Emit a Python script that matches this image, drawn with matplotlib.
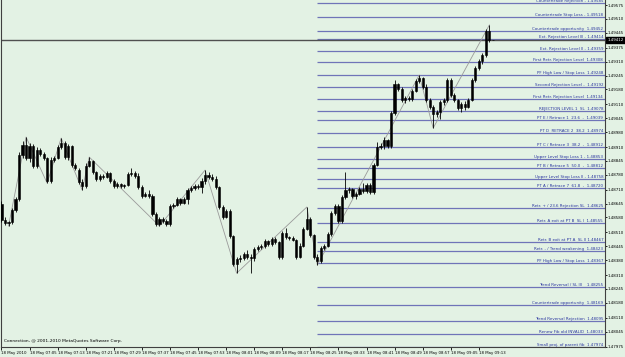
import matplotlib
matplotlib.use("Agg")
import matplotlib.pyplot as plt
import matplotlib.transforms as mtransforms

plt.rcParams['font.family'] = ['Liberation Sans Narrow', 'DejaVu Sans']

# ---------------- data ----------------
opens = [1.48643, 1.48568, 1.48554, 1.48558, 1.48615, 1.48666, 1.48873, 1.48919, 1.48858, 1.48915,
         1.48821, 1.48896, 1.48877, 1.48858, 1.48751, 1.48849, 1.48858, 1.48910, 1.48929, 1.48863,
         1.48915, 1.48826, 1.48802, 1.48746, 1.48727, 1.48821, 1.48844, 1.48793, 1.48760, 1.48774,
         1.48769, 1.48788, 1.48751, 1.48727, 1.48737, 1.48727, 1.48732, 1.48783, 1.48788, 1.48774,
         1.48723, 1.48680, 1.48690, 1.48680, 1.48596, 1.48549, 1.48573, 1.48563, 1.48549, 1.48633,
         1.48638, 1.48666, 1.48648, 1.48666, 1.48708, 1.48718, 1.48727, 1.48723, 1.48751, 1.48779,
         1.48769, 1.48760, 1.48723, 1.48629, 1.48582, 1.48610, 1.48493, 1.48362, 1.48385, 1.48390,
         1.48409, 1.48394, 1.48390, 1.48432, 1.48441, 1.48446, 1.48469, 1.48455, 1.48479, 1.48465,
         1.48394, 1.48507, 1.48488, 1.48483, 1.48474, 1.48394, 1.48446, 1.48526, 1.48573, 1.48498,
         1.48394, 1.48376, 1.48437, 1.48446, 1.48502, 1.48601, 1.48633, 1.48563, 1.48676, 1.48708,
         1.48713, 1.48680, 1.48690, 1.48713, 1.48704, 1.48732, 1.48699, 1.48826, 1.48910, 1.48915,
         1.48943, 1.48915, 1.49069, 1.49205, 1.49182, 1.49130, 1.49140, 1.49135, 1.49172, 1.49219,
         1.49233, 1.49191, 1.49130, 1.49097, 1.49065, 1.49074, 1.49121, 1.49130, 1.49224, 1.49154,
         1.49130, 1.49093, 1.49112, 1.49097, 1.49130, 1.49224, 1.49280, 1.49313, 1.49341, 1.49454,
         1.49412]
highs = [1.48657, 1.48582, 1.48563, 1.48624, 1.48676, 1.48887, 1.48938, 1.48957, 1.48929, 1.48924,
         1.48910, 1.48905, 1.48887, 1.48863, 1.48863, 1.48868, 1.48919, 1.48952, 1.48938, 1.48924,
         1.48919, 1.48835, 1.48812, 1.48760, 1.48835, 1.48863, 1.48849, 1.48798, 1.48783, 1.48783,
         1.48798, 1.48793, 1.48760, 1.48746, 1.48741, 1.48737, 1.48793, 1.48812, 1.48798, 1.48788,
         1.48732, 1.48699, 1.48708, 1.48690, 1.48605, 1.48582, 1.48582, 1.48573, 1.48643, 1.48648,
         1.48676, 1.48671, 1.48676, 1.48718, 1.48727, 1.48737, 1.48737, 1.48765, 1.48802, 1.48793,
         1.48783, 1.48774, 1.48727, 1.48638, 1.48619, 1.48619, 1.48498, 1.48394, 1.48404, 1.48418,
         1.48427, 1.48409, 1.48441, 1.48451, 1.48455, 1.48479, 1.48474, 1.48488, 1.48488, 1.48469,
         1.48516, 1.48530, 1.48493, 1.48493, 1.48479, 1.48460, 1.48535, 1.48629, 1.48582, 1.48502,
         1.48409, 1.48446, 1.48455, 1.48512, 1.48610, 1.48643, 1.48643, 1.48685, 1.48793, 1.48723,
         1.48718, 1.48699, 1.48723, 1.48741, 1.48741, 1.48741, 1.48835, 1.48933, 1.48929, 1.48957,
         1.48948, 1.49079, 1.49224, 1.49210, 1.49191, 1.49149, 1.49149, 1.49182, 1.49229, 1.49247,
         1.49238, 1.49205, 1.49140, 1.49107, 1.49083, 1.49130, 1.49140, 1.49233, 1.49233, 1.49163,
         1.49135, 1.49121, 1.49126, 1.49140, 1.49233, 1.49290, 1.49322, 1.49351, 1.49463, 1.49482,
         1.49412]
lows = [1.48558, 1.48544, 1.48540, 1.48549, 1.48605, 1.48657, 1.48858, 1.48849, 1.48840, 1.48812,
        1.48812, 1.48868, 1.48849, 1.48741, 1.48741, 1.48840, 1.48854, 1.48901, 1.48854, 1.48849,
        1.48816, 1.48802, 1.48737, 1.48708, 1.48718, 1.48816, 1.48783, 1.48751, 1.48751, 1.48760,
        1.48765, 1.48741, 1.48718, 1.48718, 1.48718, 1.48718, 1.48727, 1.48774, 1.48765, 1.48713,
        1.48671, 1.48676, 1.48671, 1.48587, 1.48540, 1.48540, 1.48554, 1.48540, 1.48540, 1.48624,
        1.48633, 1.48638, 1.48643, 1.48643, 1.48699, 1.48708, 1.48713, 1.48694, 1.48737, 1.48760,
        1.48751, 1.48713, 1.48619, 1.48573, 1.48577, 1.48483, 1.48352, 1.48319, 1.48371, 1.48380,
        1.48385, 1.48319, 1.48376, 1.48423, 1.48432, 1.48437, 1.48446, 1.48446, 1.48455, 1.48385,
        1.48385, 1.48479, 1.48474, 1.48469, 1.48385, 1.48390, 1.48441, 1.48521, 1.48488, 1.48385,
        1.48357, 1.48366, 1.48427, 1.48441, 1.48493, 1.48591, 1.48554, 1.48554, 1.48666, 1.48694,
        1.48671, 1.48666, 1.48685, 1.48694, 1.48694, 1.48690, 1.48690, 1.48821, 1.48901, 1.48901,
        1.48905, 1.48905, 1.49060, 1.49172, 1.49121, 1.49116, 1.49126, 1.49126, 1.49168, 1.49210,
        1.49182, 1.49121, 1.49088, 1.48999, 1.49051, 1.49041, 1.49107, 1.49121, 1.49144, 1.49121,
        1.49083, 1.49074, 1.49083, 1.49093, 1.49126, 1.49215, 1.49271, 1.49299, 1.49332, 1.49402,
        1.49412]
closes = [1.48568, 1.48554, 1.48558, 1.48615, 1.48666, 1.48873, 1.48919, 1.48858, 1.48915, 1.48821,
          1.48896, 1.48877, 1.48858, 1.48751, 1.48849, 1.48858, 1.48910, 1.48929, 1.48863, 1.48915,
          1.48826, 1.48812, 1.48746, 1.48727, 1.48821, 1.48844, 1.48793, 1.48760, 1.48774, 1.48769,
          1.48788, 1.48751, 1.48727, 1.48737, 1.48727, 1.48732, 1.48783, 1.48788, 1.48774, 1.48723,
          1.48680, 1.48690, 1.48680, 1.48596, 1.48549, 1.48573, 1.48563, 1.48549, 1.48633, 1.48638,
          1.48666, 1.48648, 1.48666, 1.48708, 1.48718, 1.48727, 1.48723, 1.48751, 1.48779, 1.48769,
          1.48760, 1.48723, 1.48629, 1.48582, 1.48610, 1.48493, 1.48362, 1.48385, 1.48390, 1.48409,
          1.48394, 1.48390, 1.48432, 1.48441, 1.48446, 1.48469, 1.48455, 1.48479, 1.48465, 1.48394,
          1.48507, 1.48488, 1.48483, 1.48474, 1.48394, 1.48446, 1.48526, 1.48573, 1.48498, 1.48394,
          1.48376, 1.48437, 1.48446, 1.48502, 1.48601, 1.48633, 1.48563, 1.48676, 1.48708, 1.48713,
          1.48680, 1.48690, 1.48713, 1.48704, 1.48732, 1.48699, 1.48826, 1.48910, 1.48915, 1.48943,
          1.48915, 1.49069, 1.49205, 1.49182, 1.49130, 1.49140, 1.49135, 1.49172, 1.49219, 1.49233,
          1.49191, 1.49130, 1.49097, 1.49065, 1.49074, 1.49121, 1.49130, 1.49224, 1.49154, 1.49130,
          1.49093, 1.49112, 1.49097, 1.49130, 1.49224, 1.49280, 1.49313, 1.49341, 1.49454, 1.49412,
          1.49412]

zigzag_bars = [2, 7, 13, 17, 23, 25, 45, 58, 67, 87, 90, 119, 123, 139]
zigzag_prices = [1.48540, 1.48957, 1.48741, 1.48952, 1.48708, 1.48863, 1.48540, 1.48802,
                 1.48319, 1.48629, 1.48357, 1.49247, 1.48999, 1.49482]

level_start_bar = 90
level_values = [1.49585, 1.49518, 1.49452, 1.49414, 1.49359, 1.49308, 1.49248, 1.49192,
                1.49134, 1.49078, 1.49039, 1.48974, 1.48912, 1.48853, 1.48812, 1.48758,
                1.48720, 1.48625, 1.48555, 1.48467, 1.48423, 1.48367, 1.48255, 1.48169,
                1.48095, 1.48033, 1.47974]
level_labels = ["Countertrade Rejection - 1.49585",
                "Countertrade Stop Loss - 1.49518",
                "Countertrade opportunity  1.49452",
                "Ext. Rejection Level III - 1.49414",
                "Ext. Rejection Level II - 1.49359",
                "First Retr. Rejection Level  1.49308",
                "PF High Low / Stop Loss  1.49248",
                "Second Rejection Level -  1.49192",
                "First Retr. Rejection Level  1.49134",
                "REJECTION LEVEL 1  SL  1.49078",
                "PT E / Retrace 1  23.6  -  1.49039",
                "PT D  RETRACE 2  38.2  1.48974",
                "PT C / Retrace 3  38.2  -  1.48912",
                "Upper Level Stop Loss 1 - 1.48853",
                "PT B / Retrace 5  50.0  -  1.48812",
                "Upper Level Stop Loss II - 1.48758",
                "PT A / Retrace 7  61.8  -  1.48720",
                "Retr. + / 23.6 Rejection SL  1.48625",
                "Retr. A exit at PT B  SL I  1.48555",
                "Retr. B exit at PT A  SL II 1.48467",
                "Retr. - / Trend weakening  1.48423",
                "PF High Low / Stop Loss  1.48367",
                "Trend Reversal / SL III    1.48255",
                "Countertrade opportunity  1.48169",
                "Trend Reversal Rejection  1.48095",
                "Renew Fib old INVALID  1.48033",
                "Small proj. of parent fib  1.47974"]

current_price = 1.49412
current_label = "1.49412"

price_ticks = [1.49575, 1.49510, 1.49445, 1.49375, 1.49310, 1.49245, 1.49180, 1.49110,
               1.49045, 1.48980, 1.48910, 1.48845, 1.48780, 1.48710, 1.48645, 1.48580,
               1.48510, 1.48445, 1.48380, 1.48310, 1.48245, 1.48180, 1.48110, 1.48045,
               1.47975]
time_tick_bars = [0, 8, 16, 24, 32, 40, 48, 56, 64, 72, 80, 88, 96, 104, 112, 120, 128, 136]
time_tick_labels = ["18 May 2010", "18 May 07:05", "18 May 07:13", "18 May 07:21", "18 May 07:29",
                    "18 May 07:37", "18 May 07:45", "18 May 07:53", "18 May 08:01", "18 May 08:09",
                    "18 May 08:17", "18 May 08:25", "18 May 08:33", "18 May 08:41", "18 May 08:49",
                    "18 May 08:57", "18 May 09:05", "18 May 09:13"]
copyright_text = "Connection, @ 2001-2010 MetaQuotes Software Corp."

# ---------------- style ----------------
BG = "#E3F2E4"
LEVEL_COLOR = "#6F74B8"
LABEL_COLOR = "#2A35A0"
W, H = 625, 357

fig = plt.figure(figsize=(W / 100, H / 100), dpi=100, facecolor=BG)
ax = fig.add_axes([1 / W, 10 / H, 604 / W, 347 / H])
ax.set_facecolor(BG)

ax.set_xlim(-0.14, 171.95)
ax.set_ylim(1.47973, 1.49599)

# level lines
trans_lbl = mtransforms.blended_transform_factory(ax.transAxes, ax.transData)
for val, lab in zip(level_values, level_labels):
    ax.hlines(val, level_start_bar, 172, color=LEVEL_COLOR, lw=0.9, zorder=1)
    ax.text(0.997, val, lab, transform=trans_lbl, ha='right', va='bottom',
            fontsize=2.9, color=LABEL_COLOR, zorder=4, clip_on=True)

# current price line
ax.axhline(current_price, color="#505050", lw=1.0, zorder=2)

# zigzag
ax.plot(zigzag_bars, zigzag_prices, color="#9A9A9A", lw=0.6, zorder=2)

# candles
n = len(closes)
xs = list(range(n))
ax.vlines(xs, lows, highs, color="black", lw=0.6, zorder=3)
for i in range(n):
    o, c = opens[i], closes[i]
    ax.bar(i, abs(c - o), bottom=min(o, c), width=0.62, color="black",
           edgecolor="black", linewidth=0.4, zorder=3)

# copyright
ax.text(3 / 604, (347 - 341) / 347, copyright_text, transform=ax.transAxes,
        fontsize=3.2, color="black", ha='left', va='center')

# axes / ticks
ax.spines['top'].set_visible(False)
for s in ['left', 'right', 'bottom']:
    ax.spines[s].set_color("#404040")
    ax.spines[s].set_linewidth(0.8)

ax.yaxis.tick_right()
ax.set_yticks(price_ticks)
ax.set_yticklabels([f"{v:.5f}" for v in price_ticks])
ax.tick_params(axis='y', which='both', direction='out', length=1.5, width=0.6,
               labelsize=2.9, pad=0.6, colors='black')

ax.set_xticks(time_tick_bars)
ax.set_xticklabels(time_tick_labels)
ax.tick_params(axis='x', which='both', direction='out', length=2, width=0.6,
               labelsize=2.75, pad=0.8, colors='black')
for lbl in ax.get_xticklabels():
    lbl.set_horizontalalignment('left')

# current price box
ax.text(1.0035, current_price, current_label, transform=trans_lbl, ha='left', va='center',
        fontsize=2.9, color='white', clip_on=False,
        bbox=dict(boxstyle='square,pad=0.3', fc='black', ec='black'))

fig.savefig("out.png", dpi=100, facecolor=BG)
